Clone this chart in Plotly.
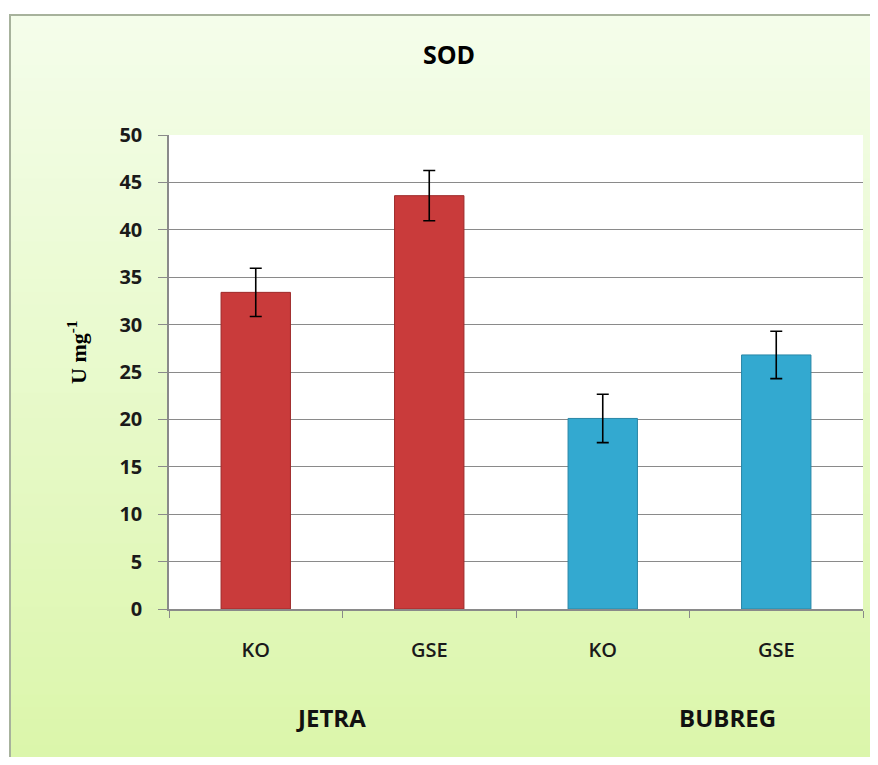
import plotly.graph_objects as go

# data
organs = ["JETRA", "BUBREG"]
groups = ["KO", "GSE", "KO", "GSE"]
sod_values = [33.4, 43.6, 20.1, 26.8]
sod_errors = [2.55, 2.65, 2.55, 2.5]
y_ticks = [0, 5, 10, 15, 20, 25, 30, 35, 40, 45, 50]

bar_colors = ["#c93b3b", "#c93b3b", "#33a9d0", "#33a9d0"]
bar_lines = ["#9e2a2a", "#9e2a2a", "#2886a6", "#2886a6"]

# page body has an 8px margin, so the figure starts at (8, 8)
OFF = 8
W, H = 878 - 2 * OFF, 765 - 2 * OFF
L, R, T, B = 169 - OFF, 870 - 863, 135 - OFF, 757 - 609
pw, ph = W - L - R, H - T - B


def px_x(x):
    # screen pixel -> paper coordinate
    return (x - OFF - L) / pw


def px_y(y):
    return (H - B - (y - OFF)) / ph


fig = go.Figure()

fig.add_trace(go.Bar(
    x=list(range(len(groups))),
    y=sod_values,
    width=0.4,
    marker=dict(color=bar_colors, line=dict(color=bar_lines, width=1)),
    error_y=dict(type="data", array=sod_errors, color="black", thickness=1.6, width=6),
    showlegend=False,
))

# chart frame with a soft green gradient
shapes = []
n = 60
top, bottom = 15, 770
c0 = (244, 253, 234)
c1 = (219, 246, 170)
for i in range(n):
    t = i / (n - 1)
    col = tuple(round(c0[k] + (c1[k] - c0[k]) * t) for k in range(3))
    y0 = top + (bottom - top) * i / n
    y1 = top + (bottom - top) * (i + 1) / n + 1
    shapes.append(dict(type="rect", xref="paper", yref="paper", layer="below",
                       x0=px_x(10), x1=px_x(885), y0=px_y(y0), y1=px_y(y1),
                       fillcolor="rgb(%d,%d,%d)" % col, line=dict(width=0)))
shapes.append(dict(type="rect", xref="paper", yref="paper", layer="below",
                   x0=px_x(10), x1=px_x(885), y0=px_y(15), y1=px_y(775),
                   fillcolor="rgba(0,0,0,0)", line=dict(color="#a7b29c", width=2)))
shapes.append(dict(type="rect", xref="paper", yref="paper", layer="below",
                   x0=0, x1=1, y0=0, y1=1, fillcolor="white", line=dict(width=0)))

fig.update_layout(
    width=W, height=H,
    margin=dict(l=L, r=R, t=T, b=B),
    paper_bgcolor="white",
    plot_bgcolor="rgba(0,0,0,0)",
    shapes=shapes,
    title=dict(text="<b>SOD</b>", x=(449 - OFF) / W, xanchor="center",
               y=1 - (55 - OFF) / H, yanchor="middle",
               font=dict(family="Open Sans", size=25, color="black")),
    xaxis=dict(
        range=[-0.5, 3.5],
        tickvals=list(range(len(groups))), ticktext=groups,
        ticks="outside", ticklen=0, ticklabelstandoff=22,
        tickfont=dict(family="Open Sans", size=20, color="#1a1a1a", weight=600),
        minor=dict(tickvals=[-0.5, 0.5, 1.5, 2.5, 3.5], ticks="outside", ticklen=7,
                   tickcolor="#8a8a8a", showgrid=False),
        showline=True, linecolor="#8a8a8a", linewidth=1.5,
        showgrid=False, zeroline=False, fixedrange=True,
    ),
    yaxis=dict(
        range=[0, 50],
        tickvals=y_ticks,
        ticks="outside", ticklen=9, tickcolor="#8a8a8a", ticklabelstandoff=12,
        tickfont=dict(family="Open Sans", size=20, color="#1a1a1a", weight="bold"),
        showline=True, linecolor="#8a8a8a", linewidth=1.5,
        showgrid=True, gridcolor="#8a8a8a", gridwidth=1.2,
        zeroline=False,
    ),
    annotations=[
        dict(text="<b>U mg<sup>-1</sup></b>", textangle=-90, x=px_x(77), y=px_y(352),
             xanchor="center", yanchor="middle",
             xref="paper", yref="paper", showarrow=False,
             font=dict(family="Liberation Serif", size=22, color="black")),
        dict(text="<b>" + organs[0] + "</b>", x=px_x(331), y=px_y(717),
             xanchor="center", yanchor="middle",
             xref="paper", yref="paper", showarrow=False,
             font=dict(family="Open Sans", size=24, color="#111")),
        dict(text="<b>" + organs[1] + "</b>", x=px_x(727), y=px_y(717),
             xanchor="center", yanchor="middle",
             xref="paper", yref="paper", showarrow=False,
             font=dict(family="Open Sans", size=24, color="#111")),
    ],
)

fig.write_html("out.html")
